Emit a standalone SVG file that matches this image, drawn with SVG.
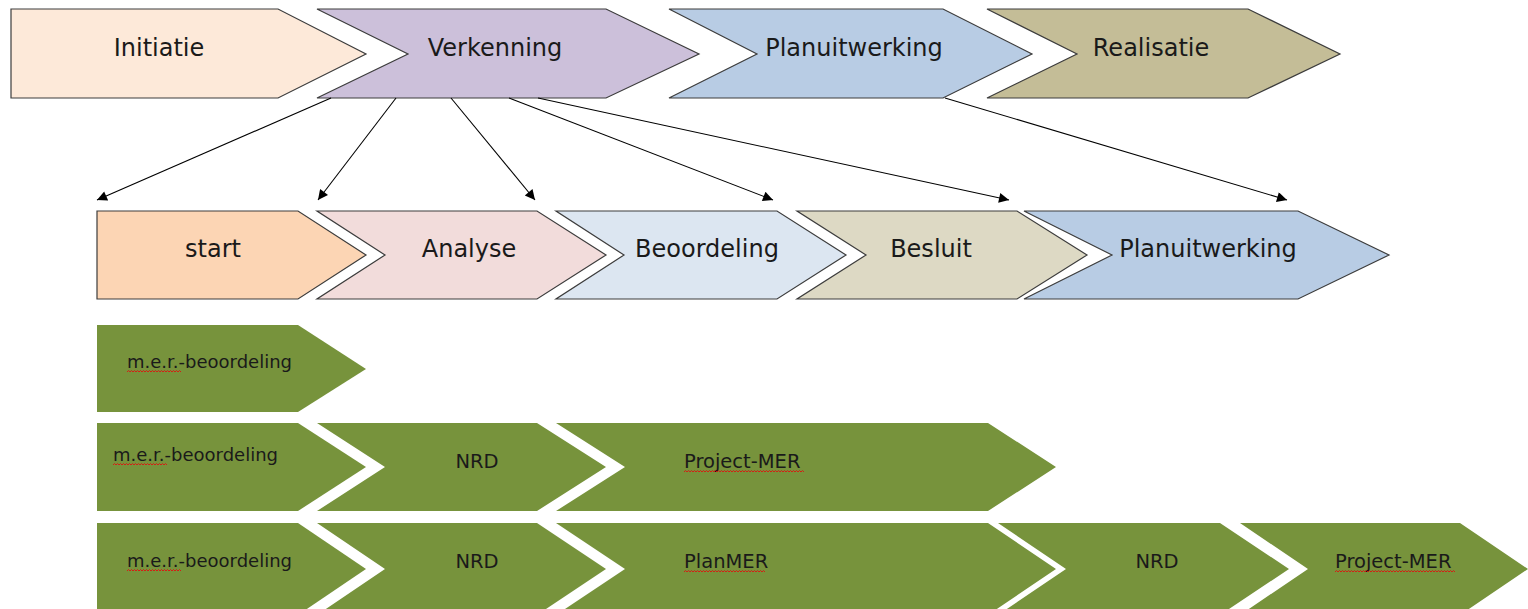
<svg xmlns="http://www.w3.org/2000/svg" width="1528" height="609" viewBox="0 0 1528 609">
<style>
.phase{stroke:#3c3c3c;stroke-width:1.2}
.g{fill:#77933c}
.t{font-family:"DejaVu Sans",sans-serif;fill:#1a1a1a}
.big{font-size:24px}
.sm{font-size:18px}
.md{font-size:19.5px}
.conn{stroke:#000;stroke-width:1.1;fill:none;marker-end:url(#ah)}
.sq{stroke:#e01010;stroke-width:0.9;fill:none}
</style>
<defs>
<marker id="ah" viewBox="0 0 10 10" refX="10" refY="5" markerWidth="12" markerHeight="10" markerUnits="userSpaceOnUse" orient="auto">
<path d="M0,0 L10,5 L0,10 Z" fill="#000"/>
</marker>
</defs>
<rect width="1528" height="609" fill="#fff"/>

<g id="initiatie"><path class="phase" fill="#fde9d9" d="M11,9 H278 L366,54 L278,98 H11 Z"/><text class="t big" x="159" y="56" text-anchor="middle">Initiatie</text></g>
<g id="verkenning"><path class="phase" fill="#ccc0da" d="M317,9 H606 L699,54 L606,98 H317 L408,54 Z"/><text class="t big" x="495" y="56" text-anchor="middle">Verkenning</text></g>
<g id="planuitwerking-top"><path class="phase" fill="#b8cce4" d="M669,9 H943 L1032,54 L943,98 H669 L757,54 Z"/><text class="t big" x="854" y="56" text-anchor="middle">Planuitwerking</text></g>
<g id="realisatie"><path class="phase" fill="#c4bd97" d="M987,9 H1248 L1340,54 L1248,98 H987 L1077,54 Z"/><text class="t big" x="1151" y="56" text-anchor="middle">Realisatie</text></g>

<g id="start"><path class="phase" fill="#fcd5b4" d="M97,211 H298 L366,255 L298,299 H97 Z"/><text class="t big" x="213" y="257" text-anchor="middle">start</text></g>
<g id="analyse"><path class="phase" fill="#f2dcdb" d="M317,211 H537 L606,255 L537,299 H317 L385,255 Z"/><text class="t big" x="469" y="257" text-anchor="middle">Analyse</text></g>
<g id="beoordeling"><path class="phase" fill="#dce6f1" d="M556,211 H777 L846,255 L777,299 H556 L624,255 Z"/><text class="t big" x="707" y="257" text-anchor="middle">Beoordeling</text></g>
<g id="besluit"><path class="phase" fill="#ddd9c4" d="M797,211 H1017 L1087,255 L1017,299 H797 L866,255 Z"/><text class="t big" x="931" y="257" text-anchor="middle">Besluit</text></g>
<g id="planuitwerking-sub"><path class="phase" fill="#b8cce4" d="M1024,211 H1298 L1389,255 L1298,299 H1024 L1112,255 Z"/><text class="t big" x="1208" y="257" text-anchor="middle">Planuitwerking</text></g>

<g id="connectors">
<line class="conn" x1="331" y1="98" x2="97" y2="200"/>
<line class="conn" x1="396" y1="98" x2="318" y2="200"/>
<line class="conn" x1="451" y1="98" x2="535" y2="200"/>
<line class="conn" x1="509" y1="98" x2="773" y2="200"/>
<line class="conn" x1="538" y1="98" x2="1009" y2="200"/>
<line class="conn" x1="945" y1="98" x2="1287" y2="200"/>
</g>

<g id="row1-mer"><path class="g" d="M97,325 H298 L366,369 L298,412 H97 Z"/><text class="t sm" x="127" y="368">m.e.r.-beoordeling</text><path class="sq" d="M127,372 l1.5,-1.5 l1.5,1.5 l1.5,-1.5 l1.5,1.5 l1.5,-1.5 l1.5,1.5 l1.5,-1.5 l1.5,1.5 l1.5,-1.5 l1.5,1.5 l1.5,-1.5 l1.5,1.5 l1.5,-1.5 l1.5,1.5 l1.5,-1.5 l1.5,1.5 l1.5,-1.5 l1.5,1.5 l1.5,-1.5 l1.5,1.5 l1.5,-1.5 l1.5,1.5 l1.5,-1.5 l1.5,1.5 l1.5,-1.5 l1.5,1.5 l1.5,-1.5 l1.5,1.5 l1.5,-1.5 l1.5,1.5 l1.5,-1.5 l1.5,1.5 l1.5,-1.5 l1.5,1.5 l1.5,-1.5 l1.5,1.5"/></g>

<g id="row2-mer"><path class="g" d="M97,423 H298 L366,467 L298,511 H97 Z"/><text class="t sm" x="113" y="461">m.e.r.-beoordeling</text><path class="sq" d="M113,465 l1.5,-1.5 l1.5,1.5 l1.5,-1.5 l1.5,1.5 l1.5,-1.5 l1.5,1.5 l1.5,-1.5 l1.5,1.5 l1.5,-1.5 l1.5,1.5 l1.5,-1.5 l1.5,1.5 l1.5,-1.5 l1.5,1.5 l1.5,-1.5 l1.5,1.5 l1.5,-1.5 l1.5,1.5 l1.5,-1.5 l1.5,1.5 l1.5,-1.5 l1.5,1.5 l1.5,-1.5 l1.5,1.5 l1.5,-1.5 l1.5,1.5 l1.5,-1.5 l1.5,1.5 l1.5,-1.5 l1.5,1.5 l1.5,-1.5 l1.5,1.5 l1.5,-1.5 l1.5,1.5 l1.5,-1.5 l1.5,1.5"/></g>
<g id="row2-nrd"><path class="g" d="M317,423 H537 L606,467 L537,511 H317 L385,467 Z"/><text class="t md" x="477" y="468" text-anchor="middle">NRD</text></g>
<g id="row2-projectmer"><path class="g" d="M556,423 H988 L1056,467 L988,511 H556 L625,467 Z"/><text class="t md" x="684" y="468">Project-MER</text><path class="sq" d="M684,472 l1.5,-1.5 l1.5,1.5 l1.5,-1.5 l1.5,1.5 l1.5,-1.5 l1.5,1.5 l1.5,-1.5 l1.5,1.5 l1.5,-1.5 l1.5,1.5 l1.5,-1.5 l1.5,1.5 l1.5,-1.5 l1.5,1.5 l1.5,-1.5 l1.5,1.5 l1.5,-1.5 l1.5,1.5 l1.5,-1.5 l1.5,1.5 l1.5,-1.5 l1.5,1.5 l1.5,-1.5 l1.5,1.5 l1.5,-1.5 l1.5,1.5 l1.5,-1.5 l1.5,1.5 l1.5,-1.5 l1.5,1.5 l1.5,-1.5 l1.5,1.5 l1.5,-1.5 l1.5,1.5 l1.5,-1.5 l1.5,1.5 l1.5,-1.5 l1.5,1.5 l1.5,-1.5 l1.5,1.5 l1.5,-1.5 l1.5,1.5 l1.5,-1.5 l1.5,1.5 l1.5,-1.5 l1.5,1.5 l1.5,-1.5 l1.5,1.5 l1.5,-1.5 l1.5,1.5 l1.5,-1.5 l1.5,1.5 l1.5,-1.5 l1.5,1.5 l1.5,-1.5 l1.5,1.5 l1.5,-1.5 l1.5,1.5 l1.5,-1.5 l1.5,1.5 l1.5,-1.5 l1.5,1.5 l1.5,-1.5 l1.5,1.5 l1.5,-1.5 l1.5,1.5 l1.5,-1.5 l1.5,1.5 l1.5,-1.5 l1.5,1.5 l1.5,-1.5 l1.5,1.5 l1.5,-1.5 l1.5,1.5 l1.5,-1.5 l1.5,1.5 l1.5,-1.5 l1.5,1.5 l1.5,-1.5 l1.5,1.5"/></g>

<g id="row3-mer"><path class="g" d="M97,523 H298 L366,569 L298,615 H97 Z"/><text class="t sm" x="127" y="567">m.e.r.-beoordeling</text><path class="sq" d="M127,571 l1.5,-1.5 l1.5,1.5 l1.5,-1.5 l1.5,1.5 l1.5,-1.5 l1.5,1.5 l1.5,-1.5 l1.5,1.5 l1.5,-1.5 l1.5,1.5 l1.5,-1.5 l1.5,1.5 l1.5,-1.5 l1.5,1.5 l1.5,-1.5 l1.5,1.5 l1.5,-1.5 l1.5,1.5 l1.5,-1.5 l1.5,1.5 l1.5,-1.5 l1.5,1.5 l1.5,-1.5 l1.5,1.5 l1.5,-1.5 l1.5,1.5 l1.5,-1.5 l1.5,1.5 l1.5,-1.5 l1.5,1.5 l1.5,-1.5 l1.5,1.5 l1.5,-1.5 l1.5,1.5 l1.5,-1.5 l1.5,1.5"/></g>
<g id="row3-nrd1"><path class="g" d="M317,523 H537 L606,569 L537,615 H317 L385,569 Z"/><text class="t md" x="477" y="568" text-anchor="middle">NRD</text></g>
<g id="row3-planmer"><path class="g" d="M556,523 H988 L1056,569 L988,615 H556 L625,569 Z"/><text class="t md" x="684" y="568">PlanMER</text><path class="sq" d="M684,572 l1.5,-1.5 l1.5,1.5 l1.5,-1.5 l1.5,1.5 l1.5,-1.5 l1.5,1.5 l1.5,-1.5 l1.5,1.5 l1.5,-1.5 l1.5,1.5 l1.5,-1.5 l1.5,1.5 l1.5,-1.5 l1.5,1.5 l1.5,-1.5 l1.5,1.5 l1.5,-1.5 l1.5,1.5 l1.5,-1.5 l1.5,1.5 l1.5,-1.5 l1.5,1.5 l1.5,-1.5 l1.5,1.5 l1.5,-1.5 l1.5,1.5 l1.5,-1.5 l1.5,1.5 l1.5,-1.5 l1.5,1.5 l1.5,-1.5 l1.5,1.5 l1.5,-1.5 l1.5,1.5 l1.5,-1.5 l1.5,1.5 l1.5,-1.5 l1.5,1.5 l1.5,-1.5 l1.5,1.5 l1.5,-1.5 l1.5,1.5 l1.5,-1.5 l1.5,1.5 l1.5,-1.5 l1.5,1.5 l1.5,-1.5 l1.5,1.5 l1.5,-1.5 l1.5,1.5 l1.5,-1.5 l1.5,1.5 l1.5,-1.5 l1.5,1.5"/></g>
<g id="row3-nrd2"><path class="g" d="M998,523 H1220 L1289,569 L1220,615 H998 L1066,569 Z"/><text class="t md" x="1157" y="568" text-anchor="middle">NRD</text></g>
<g id="row3-projectmer"><path class="g" d="M1240,523 H1460 L1528,569 L1460,615 H1240 L1308,569 Z"/><text class="t md" x="1335" y="568">Project-MER</text><path class="sq" d="M1335,572 l1.5,-1.5 l1.5,1.5 l1.5,-1.5 l1.5,1.5 l1.5,-1.5 l1.5,1.5 l1.5,-1.5 l1.5,1.5 l1.5,-1.5 l1.5,1.5 l1.5,-1.5 l1.5,1.5 l1.5,-1.5 l1.5,1.5 l1.5,-1.5 l1.5,1.5 l1.5,-1.5 l1.5,1.5 l1.5,-1.5 l1.5,1.5 l1.5,-1.5 l1.5,1.5 l1.5,-1.5 l1.5,1.5 l1.5,-1.5 l1.5,1.5 l1.5,-1.5 l1.5,1.5 l1.5,-1.5 l1.5,1.5 l1.5,-1.5 l1.5,1.5 l1.5,-1.5 l1.5,1.5 l1.5,-1.5 l1.5,1.5 l1.5,-1.5 l1.5,1.5 l1.5,-1.5 l1.5,1.5 l1.5,-1.5 l1.5,1.5 l1.5,-1.5 l1.5,1.5 l1.5,-1.5 l1.5,1.5 l1.5,-1.5 l1.5,1.5 l1.5,-1.5 l1.5,1.5 l1.5,-1.5 l1.5,1.5 l1.5,-1.5 l1.5,1.5 l1.5,-1.5 l1.5,1.5 l1.5,-1.5 l1.5,1.5 l1.5,-1.5 l1.5,1.5 l1.5,-1.5 l1.5,1.5 l1.5,-1.5 l1.5,1.5 l1.5,-1.5 l1.5,1.5 l1.5,-1.5 l1.5,1.5 l1.5,-1.5 l1.5,1.5 l1.5,-1.5 l1.5,1.5 l1.5,-1.5 l1.5,1.5 l1.5,-1.5 l1.5,1.5 l1.5,-1.5 l1.5,1.5 l1.5,-1.5 l1.5,1.5"/></g>
</svg>
